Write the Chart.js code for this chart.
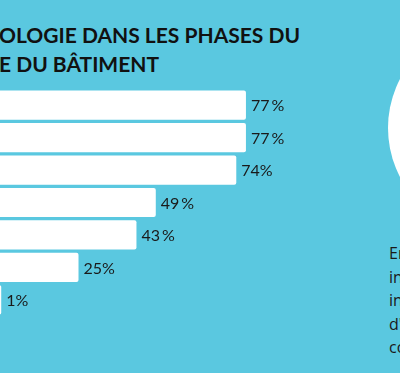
<!DOCTYPE html>
<html lang="fr">
<head>
    <meta charset="UTF-8">
    <title>Phases du cycle de vie du bâtiment</title>
    <script src="https://cdn.jsdelivr.net/npm/chart.js"></script>
    <style>
        body {
            margin: 0;
            width: 400px;
            height: 373px;
            overflow: hidden;
            position: relative;
            background-color: #5ac8e0;
            font-family: Lato, sans-serif;
        }
        #title {
            position: absolute;
            left: -1px;
            top: 20px;
            font-weight: bold;
            font-size: 21px;
            line-height: 29px;
            color: #111;
            white-space: nowrap;
        }
        #chartContainer {
            position: absolute;
            left: -2px;
            top: 89px;
            width: 322px;
            height: 227px;
        }
        #circle {
            position: absolute;
            left: 388px;
            top: 22px;
            width: 212px;
            height: 212px;
            border-radius: 50%;
            background: #fff;
        }
        #sideText {
            position: absolute;
            left: 389px;
            top: 242px;
            font-family: "Open Sans", sans-serif;
            font-size: 16px;
            line-height: 23.5px;
            color: #1a1a1a;
            white-space: nowrap;
        }
    </style>
</head>
<body>
    <div id="title">OLOGIE DANS LES PHASES DU<br>E DU BÂTIMENT</div>
    <div id="chartContainer">
        <canvas id="barChart"></canvas>
    </div>
    <div id="circle"></div>
    <div id="sideText">En<br>in<br>in<br>d'<br>co</div>

    <script>
        const categories = ['Phase 1', 'Phase 2', 'Phase 3', 'Phase 4', 'Phase 5', 'Phase 6', 'Phase 7'];
        const values = [77, 77, 74, 49, 43, 25, 1];
        const valueLabels = ['77\u2009%', '77\u2009%', '74%', '49\u2009%', '43\u2009%', '25%', '1%'];

        const barLabels = {
            id: 'barLabels',
            afterDatasetsDraw(chart) {
                const ctx = chart.ctx;
                const meta = chart.getDatasetMeta(0);
                ctx.save();
                ctx.font = '16px Lato';
                ctx.fillStyle = '#1a1a1a';
                ctx.textBaseline = 'middle';
                ctx.textAlign = 'left';
                meta.data.forEach((bar, i) => {
                    ctx.fillText(valueLabels[i], bar.x + 5, bar.y + 1);
                });
                ctx.restore();
            }
        };

        let ctx = document.getElementById('barChart').getContext('2d');
        let chart = new Chart(ctx, {
            type: 'bar',
            data: {
                labels: categories,
                datasets: [{
                    data: values,
                    backgroundColor: '#ffffff',
                    borderRadius: 2,
                    borderSkipped: false,
                    barPercentage: 0.9,
                    categoryPercentage: 1
                }]
            },
            options: {
                indexAxis: 'y',
                responsive: true,
                maintainAspectRatio: false,
                animation: false,
                layout: { padding: 0 },
                plugins: {
                    legend: { display: false },
                    tooltip: { enabled: false }
                },
                scales: {
                    x: { display: false, min: 0, max: 100 },
                    y: { display: false }
                }
            },
            plugins: [barLabels]
        });
    </script>
</body>
</html>
